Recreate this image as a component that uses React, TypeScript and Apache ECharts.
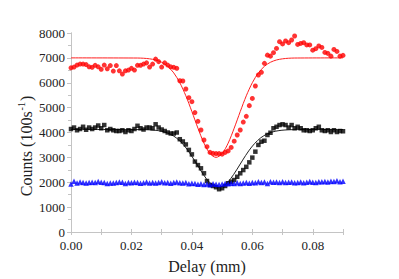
import React, { useEffect, useRef } from "react";
import * as echarts from "echarts";

const delays = [
  0.000, 0.001, 0.002, 0.003, 0.004, 0.005, 0.006, 0.007, 0.008, 0.009,
  0.010, 0.011, 0.012, 0.013, 0.014, 0.015, 0.016, 0.017, 0.018, 0.019,
  0.020, 0.021, 0.022, 0.023, 0.024, 0.025, 0.026, 0.027, 0.028, 0.029,
  0.030, 0.031, 0.032, 0.033, 0.034, 0.035, 0.036, 0.037, 0.038, 0.039,
  0.040, 0.041, 0.042, 0.043, 0.044, 0.045, 0.046, 0.047, 0.048, 0.049,
  0.050, 0.051, 0.052, 0.053, 0.054, 0.055, 0.056, 0.057, 0.058, 0.059,
  0.060, 0.061, 0.062, 0.063, 0.064, 0.065, 0.066, 0.067, 0.068, 0.069,
  0.070, 0.071, 0.072, 0.073, 0.074, 0.075, 0.076, 0.077, 0.078, 0.079,
  0.080, 0.081, 0.082, 0.083, 0.084, 0.085, 0.086, 0.087, 0.088, 0.089,
  0.090,
];

const redCounts = [
  6600, 6630, 6710, 6750, 6750, 6730, 6640, 6620, 6700, 6640,
  6540, 6710, 6560, 6690, 6470, 6690, 6480, 6350, 6480, 6510,
  6580, 6510, 6700, 6700, 6750, 6800, 6630, 6750, 6950, 6850,
  6630, 6800, 6710, 6640, 6620, 6580, 6080, 6070, 5750, 5400,
  5240, 4800, 4450, 4100, 3700, 3430, 3200, 3160, 3150, 3150,
  3130, 3200, 3260, 3400, 3650, 3900, 4100, 4420, 4650, 5080,
  5370, 5870, 6310, 6420, 6780, 7110, 7070, 7210, 7380, 7650,
  7560, 7680, 7610, 7720, 7880, 7540, 7580, 7610, 7520, 7520,
  7310, 7370, 7480, 7420, 7220, 7180, 7070, 7340, 7260, 7070,
  7100,
];

const blackCounts = [
  4140, 4200, 4090, 4140, 4230, 4110, 4200, 4140, 4200, 4280,
  4170, 4300, 4090, 4140, 4090, 4060, 4060, 4090, 4020, 4090,
  4060, 4140, 4270, 4170, 4120, 4200, 4200, 4170, 4330, 4200,
  4120, 4060, 4000, 3960, 3960, 4000, 3730, 3640, 3520, 3300,
  3120, 2830, 2690, 2560, 2360, 2050, 1890, 1850, 1800, 1720,
  1760, 1850, 1960, 2020, 2090, 2220, 2360, 2490, 2620, 2800,
  2990, 3230, 3500, 3630, 3670, 3900, 3990, 4170, 4230, 4300,
  4330, 4300, 4200, 4300, 4170, 4230, 4170, 4090, 4090, 4060,
  4090, 4170, 4230, 4090, 4060, 4090, 4020, 4090, 4020, 4060,
  4050,
];

const blueCounts = [
  1930, 2040, 1970, 2010, 1990, 1970, 1990, 2000, 1990, 2030,
  2000, 1990, 1950, 1970, 1970, 1990, 2010, 2000, 1950, 1990,
  1980, 2000, 1990, 1960, 1980, 2010, 1970, 1990, 1970, 1990,
  2020, 1980, 1990, 1960, 1990, 2010, 1980, 1970, 1990, 1940,
  1960, 1950, 1920, 1940, 1910, 1930, 1900, 1940, 1920, 1910,
  1930, 1950, 1940, 1960, 1950, 1980, 1950, 1970, 1990, 1960,
  1990, 1980, 2020, 1990, 2010, 1950, 2020, 2000, 2010, 1990,
  2020, 1990, 2000, 2010, 1980, 1990, 2010, 1980, 2000, 2030,
  2000, 1990, 2020, 2020, 2030, 2010, 2040, 2030, 2060, 2020,
  2040,
];

const redFitX = [
  0, 0.022, 0.024, 0.026, 0.028, 0.030, 0.032, 0.034, 0.036, 0.038,
  0.040, 0.042, 0.044, 0.046, 0.048, 0.050, 0.052, 0.054, 0.056, 0.058,
  0.060, 0.062, 0.064, 0.066, 0.068, 0.070, 0.072, 0.074, 0.090,
];
const redFitY = [
  7000, 6994, 6985, 6962, 6916, 6824, 6661, 6396, 6002, 5475,
  4842, 4174, 3572, 3152, 3000, 3152, 3572, 4174, 4842, 5475,
  6002, 6396, 6661, 6824, 6916, 6962, 6985, 6994, 7000,
];

const blackFitX = [
  0, 0.0228, 0.0248, 0.0268, 0.0288, 0.0308, 0.0328, 0.0348, 0.0368, 0.0388,
  0.0408, 0.0428, 0.0448, 0.0468, 0.0488, 0.0508, 0.0528, 0.0548, 0.0568, 0.0588,
  0.0608, 0.0628, 0.0648, 0.0668, 0.0688, 0.0708, 0.0728, 0.0748, 0.090,
];
const blackFitY = [
  4120, 4117, 4112, 4101, 4076, 4027, 3937, 3788, 3564, 3260,
  2890, 2497, 2140, 1890, 1800, 1890, 2140, 2497, 2890, 3260,
  3564, 3788, 3937, 4027, 4076, 4101, 4112, 4117, 4120,
];

const xTicks = ["0.00", "0.02", "0.04", "0.06", "0.08"];

const FONT = "Times New Roman";
const AXIS_GREY = "#c4c4c4";
const TEXT = "#222222";

function pairs(xs: number[], ys: number[]) {
  return xs.map((x, i) => [x, ys[i]]);
}

export default function App() {
  const ref = useRef<HTMLDivElement>(null);
  useEffect(() => {
    document.body.style.margin = "0";
    if (!ref.current) return;
    const chart = echarts.init(ref.current, null, { renderer: "svg" });
    const axisLine = { show: true, lineStyle: { color: AXIS_GREY, width: 1 } };
    chart.setOption({
      animation: false,
      backgroundColor: "#ffffff",
      textStyle: { fontFamily: FONT },
      grid: { left: 71, right: 56, top: 33, bottom: 47, containLabel: false },
      xAxis: [
        {
          type: "value",
          position: "bottom",
          min: 0,
          max: 0.09,
          interval: 0.01,
          axisLine,
          axisTick: { show: true, inside: true, length: 3, lineStyle: { color: AXIS_GREY } },
          splitLine: { show: false },
          axisLabel: {
            fontFamily: FONT,
            fontSize: 13,
            color: TEXT,
            margin: 7,
            formatter: (v: number) => {
              const s = v.toFixed(2);
              return xTicks.includes(s) ? s : "";
            },
          },
          name: "Delay (mm)",
          nameLocation: "middle",
          nameGap: 26,
          nameTextStyle: { fontFamily: FONT, fontSize: 16, color: TEXT },
        },
        {
          type: "value",
          position: "top",
          min: 0,
          max: 0.09,
          interval: 0.01,
          axisLine,
          axisTick: { show: true, inside: true, length: 3, lineStyle: { color: AXIS_GREY } },
          axisLabel: { show: false },
          splitLine: { show: false },
        },
      ],
      yAxis: [
        {
          type: "value",
          position: "left",
          min: 0,
          max: 8000,
          interval: 1000,
          axisLine,
          axisTick: { show: true, inside: false, length: 4, lineStyle: { color: AXIS_GREY } },
          minorTick: { show: true, splitNumber: 2, length: 2, lineStyle: { color: AXIS_GREY } },
          splitLine: { show: false },
          axisLabel: {
            fontFamily: FONT,
            fontSize: 13,
            color: TEXT,
            margin: 6,
            formatter: (v: number) => String(Math.round(v)),
          },
        },
        {
          type: "value",
          position: "right",
          min: 0,
          max: 8000,
          interval: 500,
          axisLine,
          axisTick: { show: true, inside: true, length: 3, lineStyle: { color: AXIS_GREY } },
          axisLabel: { show: false },
          splitLine: { show: false },
        },
      ],
      graphic: [
        {
          type: "text",
          x: 25,
          y: 146,
          rotation: Math.PI / 2,
          style: {
            text: "{a|Counts (100s}{b|-1}{a|)}",
            align: "center",
            verticalAlign: "middle",
            fill: TEXT,
            rich: {
              a: { fontFamily: FONT, fontSize: 16, lineHeight: 18, fill: TEXT, verticalAlign: "bottom" },
              b: { fontFamily: FONT, fontSize: 10, lineHeight: 18, fill: TEXT, verticalAlign: "top", padding: [0, 1, 6, 1] },
            },
          },
        },
      ],
      series: [
        {
          type: "line",
          data: pairs(redFitX, redFitY),
          smooth: 0.3,
          showSymbol: false,
          symbol: "none",
          lineStyle: { color: "#ff2020", width: 1 },
          z: 1,
        },
        {
          type: "line",
          data: pairs(blackFitX, blackFitY),
          smooth: 0.3,
          showSymbol: false,
          symbol: "none",
          lineStyle: { color: "#222", width: 1 },
          z: 1,
        },
        {
          type: "scatter",
          data: pairs(delays, redCounts),
          symbol: "circle",
          symbolSize: 5,
          itemStyle: { color: "#ff0000" },
          z: 3,
        },
        {
          type: "scatter",
          data: pairs(delays, blackCounts),
          symbol: "rect",
          symbolSize: 4.5,
          itemStyle: { color: "#000000" },
          z: 3,
        },
        {
          type: "scatter",
          data: pairs(delays, blueCounts),
          symbol: "triangle",
          symbolSize: 5.5,
          itemStyle: { color: "#0000ff" },
          z: 3,
        },
      ],
    });
    return () => chart.dispose();
  }, []);
  return <div ref={ref} style={{ width: 399, height: 279 }} />;
}
